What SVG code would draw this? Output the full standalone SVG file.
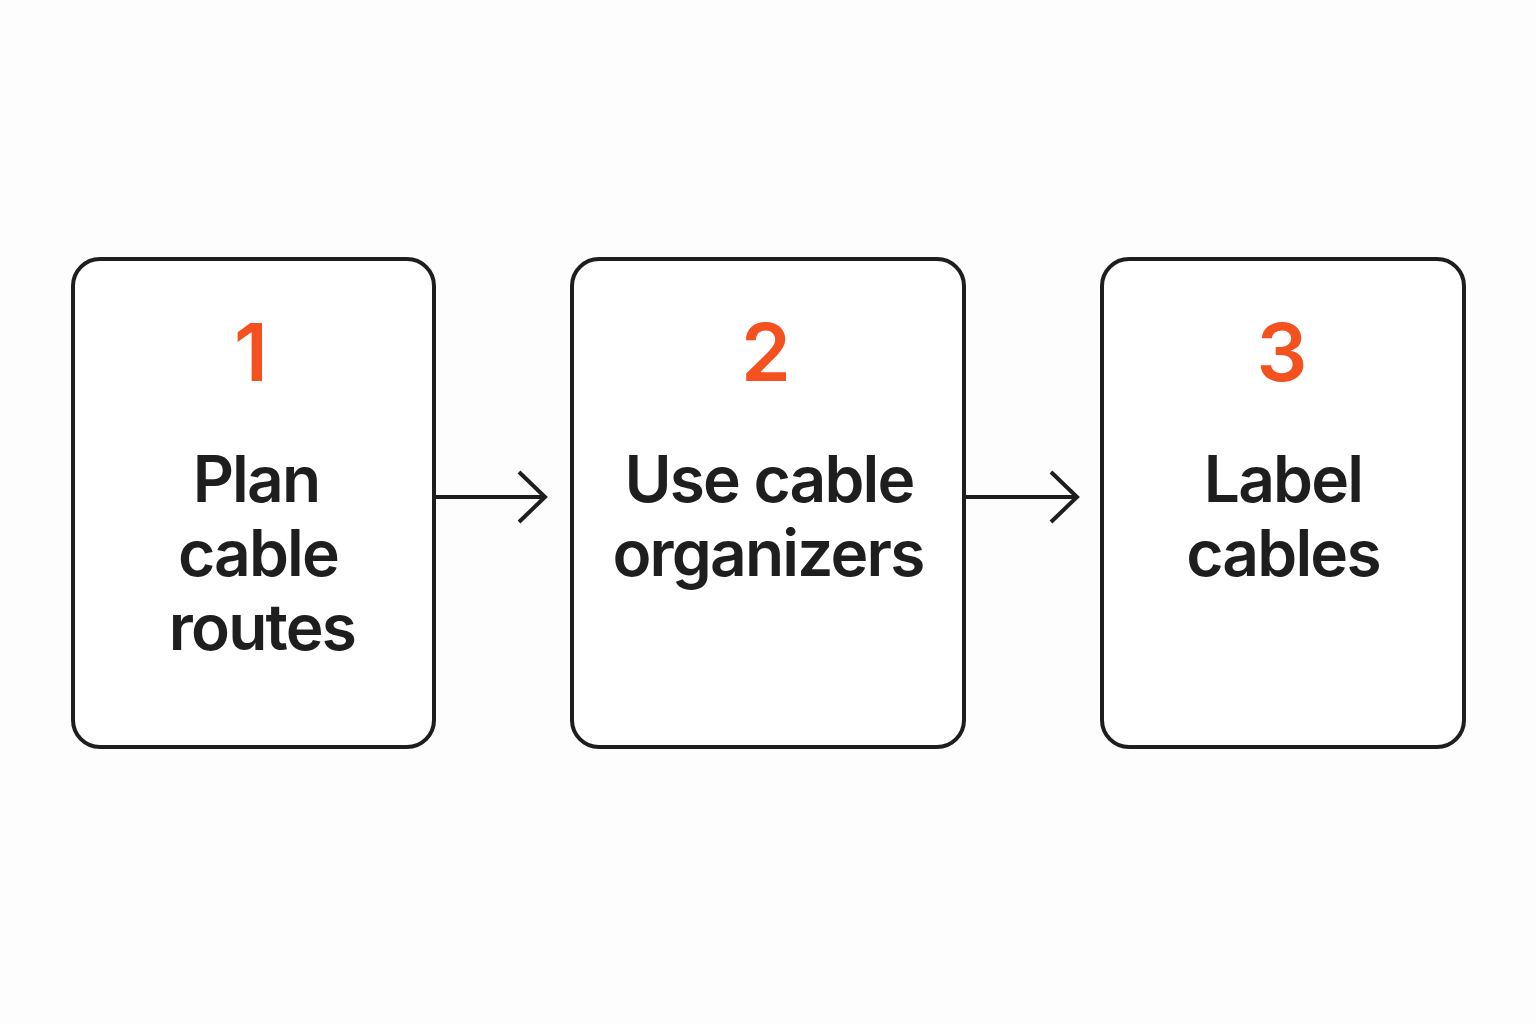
<svg xmlns="http://www.w3.org/2000/svg" width="1536" height="1024" viewBox="0 0 1536 1024">
<style>
.box{fill:#fff;stroke:#1e1e1e;stroke-width:4}
.num{font-family:Inter,"Liberation Sans",sans-serif;font-size:80px;font-weight:600;fill:#f4511e;text-anchor:middle}
.lbl{font-family:Inter,"Liberation Sans",sans-serif;font-size:64px;font-weight:600;letter-spacing:-1.8px;fill:#1e1e1e;text-anchor:middle}
.conn{fill:none;stroke:#1e1e1e;stroke-width:4;stroke-linecap:butt;stroke-linejoin:miter}
</style>
<rect width="1536" height="1024" fill="#fdfdfd"/>
<g id="connectors">
<path class="conn" d="M434 497H545"/>
<path class="conn" d="M519 472L545 497L519 522"/>
<path class="conn" d="M964 497H1077"/>
<path class="conn" d="M1051 472L1077 497L1051 522"/>
</g>
<g id="node1">
<rect class="box" x="73" y="259" width="361" height="488" rx="27"/>
<text class="num" x="251" y="381">1</text>
<text class="lbl" x="256" y="502">Plan</text>
<text class="lbl" x="258" y="576">cable</text>
<text class="lbl" x="262" y="650">routes</text>
</g>
<g id="node2">
<rect class="box" x="572" y="259" width="392" height="488" rx="27"/>
<text class="num" x="766" y="381">2</text>
<text class="lbl" x="769" y="502">Use cable</text>
<text class="lbl" x="768" y="576">organizers</text>
</g>
<g id="node3">
<rect class="box" x="1102" y="259" width="362" height="488" rx="27"/>
<text class="num" x="1282" y="381">3</text>
<text class="lbl" x="1283" y="502">Label</text>
<text class="lbl" x="1283" y="576">cables</text>
</g>
</svg>
